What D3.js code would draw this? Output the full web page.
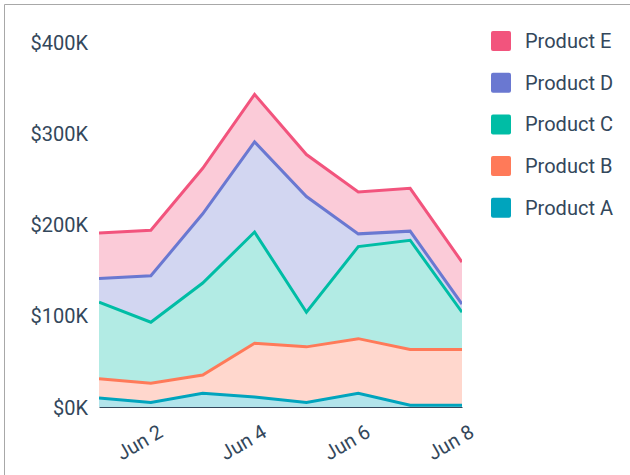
<!DOCTYPE html>
<html>
<head>
<meta charset="utf-8">
<script src="https://cdn.jsdelivr.net/npm/d3@7"></script>
<style>
  body { margin: 0; background: #fff; font-family: Roboto, "Noto Sans", sans-serif; }
  svg { display: block; }
  .tick text { fill: #33475b; font-size: 20px; font-family: Roboto, sans-serif; }
</style>
</head>
<body>
<div id="chart"></div>
<script>
// Stacked area, five products over the first week of June.

const days = ["2024-06-01", "2024-06-02", "2024-06-03", "2024-06-04", "2024-06-05", "2024-06-06", "2024-06-07", "2024-06-08"];
const tickDays = ["2024-06-02", "2024-06-04", "2024-06-06", "2024-06-08"];
const yTicks = [0, 100000, 200000, 300000, 400000];

const productA = [10000, 5000, 15000, 11000, 5000, 15000, 2000, 2000];
const productB = [21000, 21000, 20000, 59000, 61000, 60000, 61000, 61000];
const productC = [84000, 67000, 101000, 122000, 38000, 101000, 120000, 41000];
const productD = [26000, 51000, 76000, 99000, 127000, 14000, 10000, 9000];
const productE = [50000, 50000, 50000, 52000, 46000, 46000, 47000, 46000];

const keys = ["Product A", "Product B", "Product C", "Product D", "Product E"];
const colors = ["#00a4bd", "#ff7a59", "#00bda5", "#6a78d1", "#f2547d"];

const W = 630, H = 475;
const margin = { top: 42.5, right: 168, bottom: 68, left: 99 };
const parse = d3.utcParse("%Y-%m-%d");

const rows = days.map((d, i) => ({
  date: parse(d),
  "Product A": productA[i], "Product B": productB[i], "Product C": productC[i],
  "Product D": productD[i], "Product E": productE[i]
}));

const color = d3.scaleOrdinal().domain(keys).range(colors);
const x = d3.scaleUtc().domain(d3.extent(rows, d => d.date)).range([margin.left, W - margin.right]);
const y = d3.scaleLinear().domain([0, 400000]).range([H - margin.bottom, margin.top]);

const series = d3.stack().keys(keys)(rows);

const svg = d3.select("#chart").append("svg").attr("width", W).attr("height", H);

// page frame
svg.append("path").attr("d", `M4.5,${H} V4.5 H${W}`).attr("fill", "none").attr("stroke", "#a8a8a8");

svg.append("clipPath").attr("id", "plot")
  .append("rect").attr("x", margin.left).attr("y", 0)
  .attr("width", W - margin.right - margin.left).attr("height", H - margin.bottom);

const g = svg.append("g").attr("clip-path", "url(#plot)");

const area = d3.area().x(d => x(d.data.date)).y0(d => y(d[0])).y1(d => y(d[1]));
const line = d3.line().x(d => x(d.data.date)).y(d => y(d[1]));

g.selectAll("path.area").data(series).join("path").attr("class", "area")
  .attr("d", area).attr("fill", d => color(d.key)).attr("fill-opacity", 0.3);

g.selectAll("path.line").data(series).join("path").attr("class", "line")
  .attr("d", line).attr("fill", "none").attr("stroke", d => color(d.key))
  .attr("stroke-width", 3).attr("stroke-linejoin", "miter");

// y axis: labels only
const gY = svg.append("g").attr("transform", `translate(${margin.left},0)`)
  .call(d3.axisLeft(y).tickValues(yTicks).tickSize(0).tickPadding(11).tickFormat(d => `$${d / 1000}K`));
gY.select(".domain").remove();
gY.selectAll(".tick text").attr("dy", "0.35em");

// x axis
const gX = svg.append("g").attr("transform", `translate(0,${H - margin.bottom})`)
  .call(d3.axisBottom(x).tickValues(tickDays.map(parse)).tickSize(0).tickFormat(d3.utcFormat("Jun %-d")));
gX.select(".domain").attr("stroke", "#33475b").attr("stroke-width", 1);
gX.selectAll(".tick text")
  .attr("text-anchor", "end").attr("x", 0).attr("y", 0).attr("dy", 0)
  .attr("transform", "translate(13,29) rotate(-30)");

// legend, top series first
const legend = svg.append("g").attr("transform", "translate(491,31)");
const item = legend.selectAll("g").data(keys.slice().reverse()).join("g")
  .attr("transform", (d, i) => `translate(0,${i * 41.7})`);
item.append("rect").attr("width", 20).attr("height", 20).attr("rx", 2)
  .attr("fill", d => color(d));
item.append("text").attr("x", 34).attr("y", 10).attr("dy", "0.35em")
  .attr("font-size", 20).attr("fill", "#33475b").text(d => d);
</script>
</body>
</html>
